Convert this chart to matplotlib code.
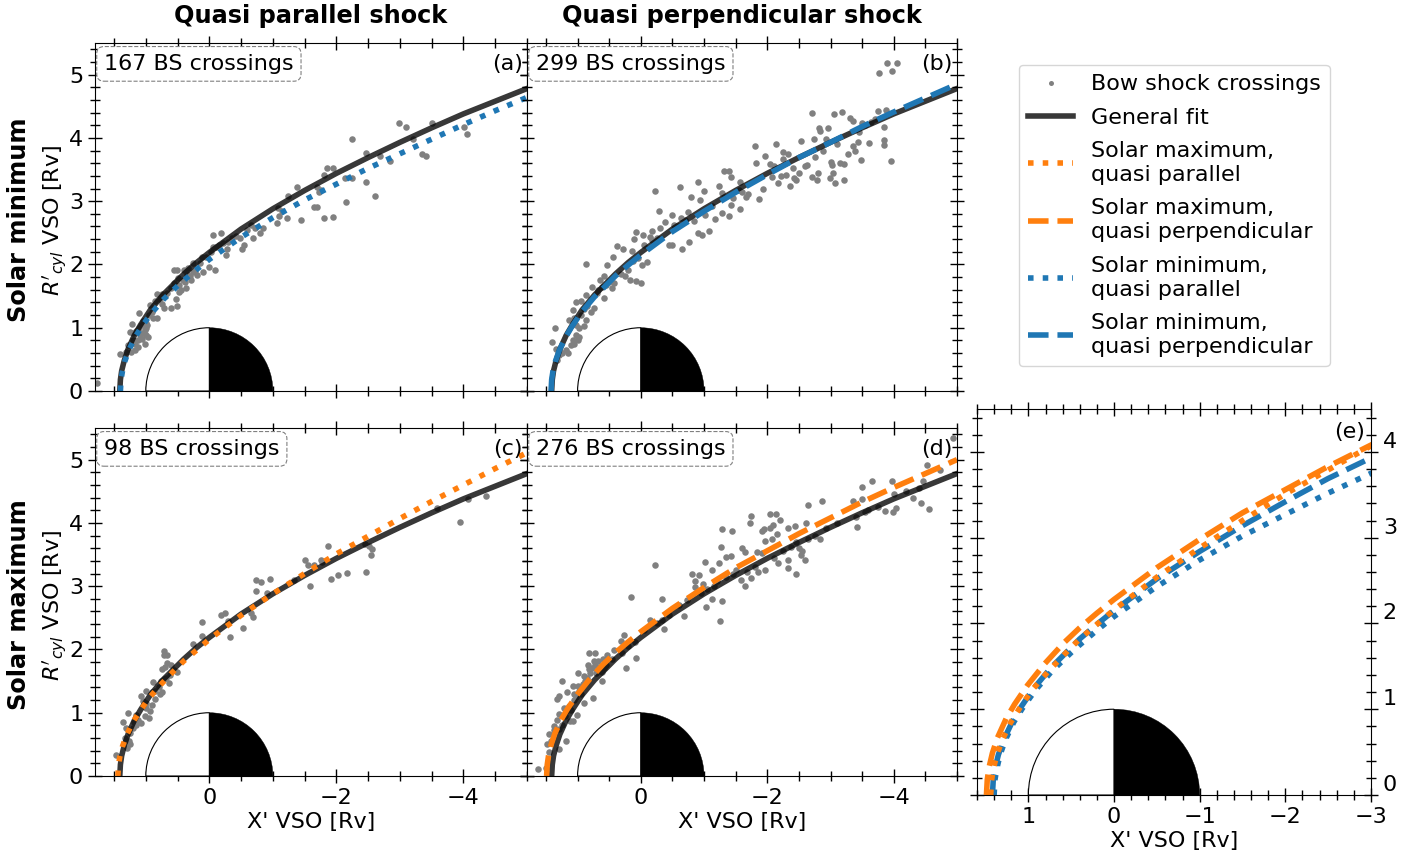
import matplotlib
matplotlib.use('Agg')
import matplotlib.pyplot as plt
from matplotlib.lines import Line2D
from matplotlib.patches import Wedge
from matplotlib.ticker import MultipleLocator

# fit curves
x_far = [-0.5, -1, -1.5, -2, -2.5, -3, -3.5, -4, -4.5, -5]

x_general = [1.41, 1.40, 1.38, 1.34, 1.28, 1.18, 1.08, 0.93, 0.73, 0.51, 0.4, 0.2, 0] + x_far
y_general = [0, 0.18, 0.32, 0.48, 0.66, 0.88, 1.05, 1.28, 1.52, 1.74, 1.85, 2.03, 2.19,
             2.56, 2.88, 3.17, 3.44, 3.69, 3.93, 4.16, 4.38, 4.58, 4.78]

x_min_par = [1.40, 1.39, 1.37, 1.33, 1.27, 1.17, 1.07, 0.92, 0.72, 0.50, 0.4, 0.2, 0] + x_far
y_min_par = [0, 0.18, 0.30, 0.47, 0.64, 0.85, 1.01, 1.22, 1.45, 1.66, 1.75, 1.92, 2.08,
             2.43, 2.74, 3.02, 3.27, 3.52, 3.75, 3.98, 4.21, 4.43, 4.64]

x_min_perp = [1.42, 1.41, 1.39, 1.35, 1.29, 1.19, 1.09, 0.94, 0.74, 0.52, 0.4, 0.2, 0] + x_far
y_min_perp = [0, 0.18, 0.31, 0.47, 0.64, 0.85, 1.02, 1.24, 1.48, 1.70, 1.82, 1.99, 2.15,
              2.52, 2.84, 3.14, 3.42, 3.69, 3.93, 4.18, 4.41, 4.63, 4.85]

x_max_par = [1.44, 1.43, 1.41, 1.37, 1.31, 1.21, 1.11, 0.96, 0.76, 0.54, 0.4, 0.2, 0] + x_far
y_max_par = [0, 0.17, 0.30, 0.46, 0.63, 0.84, 1.00, 1.22, 1.45, 1.68, 1.82, 1.99, 2.16,
             2.54, 2.88, 3.20, 3.51, 3.79, 4.07, 4.34, 4.60, 4.86, 5.11]

x_max_perp = [1.49, 1.48, 1.46, 1.42, 1.36, 1.26, 1.16, 1.01, 0.81, 0.59, 0.4, 0.2, 0] + x_far
y_max_perp = [0, 0.18, 0.32, 0.49, 0.67, 0.89, 1.06, 1.28, 1.53, 1.77, 1.95, 2.12, 2.28,
              2.65, 2.98, 3.29, 3.56, 3.83, 4.08, 4.33, 4.56, 4.78, 5.00]

# bow shock crossings per panel
crossings_a = [
    (1.77, .13), (1.40, .59), (1.31, .61), (1.22, 1.06), (1.11, 1.24), (1.25, .94), (1.20, .91),
    (1.17, .75), (1.12, .81), (1.02, .75), (1.09, .88), (1.04, .91), (.99, .99), (1.01, .96),
    (.97, .86), (.98, 1.04), (1.23, .62), (1.17, .65), (1.13, .70), (1.0, .89), (1.08, 1.04),
    (.93, 1.36), (.88, 1.15), (.83, 1.15), (.83, 1.54), (.75, 1.54), (.72, 1.31), (.61, 1.31),
    (.51, 1.35), (.53, 1.46), (.48, 1.57), (.45, 1.59), (.56, 1.92), (.51, 1.92), (.40, 1.92),
    (.33, 1.94), (.26, 2.03), (.36, 1.62), (.29, 1.76), (.19, 1.83), (.10, 1.88), (.11, 2.12),
    (.01, 1.96), (-.09, 1.91), (-.05, 2.27), (-.06, 2.46), (-.19, 2.5), (-.26, 2.15), (-.28, 2.25),
    (-.22, 2.34), (-.52, 2.25), (-.54, 2.31), (-.69, 2.42), (-.65, 2.62), (-.79, 2.49), (-.84, 2.57),
    (-1.06, 2.66), (-1.09, 2.76), (-1.23, 2.73), (-1.08, 2.9), (-1.24, 3.08), (-1.38, 3.23),
    (-1.44, 2.7), (-1.64, 2.91), (-1.69, 2.91), (-1.81, 2.73), (-1.95, 2.75), (-1.73, 3.15),
    (-1.69, 3.22), (-1.81, 3.42), (-1.85, 3.52), (-1.94, 3.52), (-2.15, 2.99), (-2.13, 3.36),
    (-2.24, 3.36), (-2.25, 3.98), (-2.46, 3.76), (-2.47, 3.3), (-2.6, 3.08), (-2.69, 3.71),
    (-2.85, 3.63), (-2.99, 4.23), (-3.09, 4.17), (-3.2, 3.99), (-3.34, 3.75), (-3.41, 3.72),
    (-3.5, 4.24), (-4.01, 4.18), (-4.05, 4.06), (.78, 1.45), (.75, 1.38), (.7, 1.5), (.66, 1.55),
    (.6, 1.62), (.55, 1.7), (.5, 1.78), (.47, 1.68), (.42, 1.75), (.38, 1.72), (.35, 1.85),
    (.3, 1.82), (.25, 1.88), (.22, 1.9), (.15, 2.02), (.05, 2.12), (-.02, 2.2), (-.1, 2.27),
    (-.15, 2.3), (-.3, 2.36), (-.35, 2.42), (-.42, 2.45), (-.48, 2.42), (-.6, 2.55), (-.72, 2.58),
    (-1.15, 2.85), (-1.75, 3.17), (1.15, .95), (1.05, 1.1), (.95, 1.2), (.9, 1.25), (1.28, .72),
    (1.2, .8), (1.1, 1.0), (1.06, .82), (1.0, 1.08), (.85, 1.42),
]

crossings_b = [
    (1.36, .99), (1.40, .78), (1.34, .66), (1.29, .57), (1.32, .49), (1.19, .65), (1.11, .73),
    (1.07, .81), (1.03, .88), (.98, .99), (.90, 1.03), (.87, 1.13), (1.13, 1.12), (1.08, 1.28),
    (1.03, 1.40), (.95, 1.42), (.87, 1.52), (.77, 1.65), (.74, 1.31), (.79, 1.25), (.59, 1.47),
    (.65, 1.75), (.58, 1.81), (.86, 2.0), (.53, 1.99), (.44, 2.11), (.37, 2.29), (.28, 2.24),
    (.14, 2.22), (.08, 2.52), (.11, 2.41), (-.03, 2.46), (-.14, 2.44), (-.18, 2.53), (-.31, 2.58),
    (-.28, 2.84), (-.22, 3.16), (-.39, 2.67), (-.49, 2.78), (-.44, 2.31), (-.49, 2.31), (-.65, 2.25),
    (-.76, 2.36), (.17, 1.75), (.08, 1.74), (0, 1.71), (-.02, 1.99), (-.09, 2.04), (-.64, 2.74),
    (-.75, 2.83), (-.62, 3.22), (-.79, 3.07), (-.94, 3.02), (-.90, 3.31), (-1.0, 3.16), (-1.02, 2.78),
    (-.91, 2.49), (-.97, 2.46), (-1.08, 2.53), (-1.18, 2.72), (-1.28, 2.81), (-1.40, 2.77),
    (-1.42, 2.94), (-1.57, 2.87), (-1.23, 3.24), (-1.32, 3.48), (-1.39, 3.47), (-1.42, 3.38),
    (-1.28, 3.13), (-1.57, 3.31), (-1.67, 3.06), (-1.87, 3.03), (-1.93, 3.2), (-1.8, 3.87),
    (-1.82, 3.61), (-1.97, 3.71), (-2.05, 3.59), (-2.13, 3.91), (-2.25, 3.78), (-2.33, 3.74),
    (-2.25, 3.66), (-2.07, 3.38), (-2.17, 3.29), (-2.36, 3.24), (-2.45, 3.33), (-2.54, 3.95),
    (-2.41, 3.52), (-2.62, 3.57), (-2.71, 3.38), (-2.8, 3.45), (-2.79, 3.34), (-2.71, 4.4),
    (-2.74, 3.99), (-2.82, 4.16), (-2.83, 4.11), (-2.96, 4.16), (-2.93, 3.99), (-3.05, 4.38),
    (-3.18, 4.41), (-3.3, 4.32), (-3.35, 4.27), (-3.0, 3.62), (-3.02, 3.57), (-3.04, 3.45),
    (-2.99, 3.36), (-3.07, 3.28), (-3.21, 3.34), (-3.22, 3.59), (-3.27, 3.74), (-3.38, 3.79),
    (-3.36, 3.87), (-3.43, 3.94), (-3.48, 3.65), (-3.61, 3.92), (-3.5, 4.24), (-3.64, 4.25),
    (-3.75, 4.43), (-3.88, 4.44), (-3.84, 4.18), (-3.84, 3.97), (-3.85, 3.89), (-3.96, 3.63),
    (-3.76, 5.02), (-3.9, 5.19), (-3.97, 5.06), (-4.05, 5.18), (1.25, .6), (1.15, .6), (1.05, .75),
    (1.0, .8), (.98, .85), (1.02, 1.05), (1.05, 1.15), (.95, 1.2), (.9, 1.3), (.85, 1.35), (.7, 1.55),
    (.68, 1.6), (.62, 1.65), (.55, 1.68), (.5, 1.72), (.45, 1.62), (.42, 1.7), (.32, 1.85), (.25, 1.82),
    (.2, 1.92), (.12, 2.05), (.05, 2.1), (-.05, 2.3), (-.18, 2.38), (-.25, 2.42), (-.52, 2.62),
    (-.58, 2.6), (-.7, 2.7), (-.84, 2.68), (-1.12, 2.92), (-1.45, 3.05), (-1.6, 3.14), (-1.7, 3.12),
    (-1.55, 3.18), (-2.1, 3.55), (-2.22, 3.4), (-2.3, 3.42), (-2.42, 3.36), (-2.5, 3.45), (-2.6, 3.55),
    (-2.75, 3.7), (-2.88, 3.8), (-3.1, 3.9), (-3.15, 3.6), (-3.45, 4.1), (-3.55, 4.2), (-3.7, 4.3),
]

crossings_c = [
    (1.47, .33), (1.36, .86), (1.28, 1.0), (1.31, .76), (1.25, .5), (1.29, .45), (1.2, .76),
    (1.15, .97), (1.07, 1.26), (1.0, 1.35), (1.04, 1.18), (1.08, .84), (1.02, .95), (.94, 1.03),
    (.95, .92), (.99, 1.08), (.88, 1.48), (.85, 1.21), (.91, 1.32), (.75, 1.32), (.76, 1.5),
    (.71, 1.54), (.64, 1.47), (.74, 1.69), (.72, 1.91), (.72, 1.97), (.67, 1.91), (.67, 1.79),
    (.61, 1.75), (.51, 1.64), (.26, 2.09), (.11, 2.21), (.11, 2.44), (-.18, 2.55), (-.25, 2.57),
    (-.32, 2.2), (-.29, 2.45), (-.53, 2.34), (-.65, 2.58), (-.68, 2.52), (-.74, 2.92), (-.74, 3.09),
    (-.81, 3.07), (-.91, 2.89), (-.96, 3.12), (-1.33, 3.09), (-1.51, 3.41), (-1.55, 3.33),
    (-1.59, 3.01), (-1.65, 3.33), (-1.76, 3.42), (-1.77, 3.39), (-1.87, 3.64), (-1.92, 3.11),
    (-2.03, 3.17), (-2.16, 3.21), (-2.45, 3.67), (-2.47, 3.22), (-2.51, 3.63), (-2.56, 3.58),
    (-2.54, 3.49), (-3.58, 4.24), (-3.94, 4.02), (-4.07, 4.37), (-4.36, 4.43), (1.12, .88),
    (1.18, .85), (1.25, .68), (1.15, .8), (1.0, 1.15), (.9, 1.12), (.85, 1.35), (.8, 1.4),
    (.68, 1.55), (.62, 1.6), (.56, 1.68), (.7, 1.72), (1.27, .55), (1.33, .6), (.78, 1.3),
]

crossings_d = [
    (1.62, .11), (1.5, .12), (1.46, .38), (1.48, .5), (1.45, .67), (1.37, .79), (1.29, .43),
    (1.18, .56), (1.29, .98), (1.32, .89), (1.25, 1.5), (1.33, 1.21), (1.29, 1.26), (1.16, 1.33),
    (1.22, 1.08), (1.14, 1.11), (1.07, .87), (1.01, .96), (1.12, .87), (1.07, 1.43), (1.0, 1.62),
    (1.0, 1.42), (.9, 1.15), (.76, 1.24), (1.06, 1.29), (.95, 1.29), (.9, 1.58), (.82, 1.95),
    (.73, 1.95), (.74, 1.82), (.83, 1.75), (.82, 1.69), (.71, 1.63), (.61, 1.5), (.6, 1.85),
    (.53, 1.91), (.43, 1.99), (.32, 2.14), (.26, 2.23), (.24, 1.71), (.08, 1.87), (.15, 2.83),
    (-.14, 2.46), (-.22, 3.33), (-.34, 2.8), (-.34, 2.47), (-.37, 2.33), (-.68, 2.53), (-.73, 2.78),
    (-.81, 3.2), (-.92, 3.18), (-.86, 3.08), (-.86, 2.99), (-.99, 3.03), (-1.02, 3.38), (-1.12, 3.26),
    (-1.03, 2.67), (-1.25, 2.45), (-1.29, 2.77), (-1.12, 2.8), (-1.24, 3.37), (-1.27, 3.62),
    (-1.28, 3.91), (-1.44, 3.87), (-1.35, 3.46), (-1.42, 3.47), (-1.6, 3.61), (-1.64, 3.54),
    (-1.74, 4.11), (-1.73, 4.0), (-1.65, 3.0), (-1.83, 3.54), (-1.91, 3.53), (-1.91, 3.87),
    (-1.95, 3.91), (-2.04, 4.14), (-2.14, 4.14), (-2.2, 4.04), (-2.04, 3.92), (-2.09, 3.97),
    (-1.96, 3.71), (-2.07, 3.75), (-2.15, 3.82), (-2.32, 3.92), (-2.44, 3.95), (-2.46, 3.19),
    (-2.32, 3.28), (-2.17, 3.37), (-2.33, 3.41), (-1.97, 3.26), (-1.86, 3.23), (-1.75, 3.13),
    (-2.54, 3.5), (-2.59, 3.42), (-2.61, 4.0), (-2.64, 4.29), (-2.87, 4.35), (-2.83, 3.74),
    (-2.93, 3.92), (-3.35, 4.35), (-3.49, 4.56), (-3.49, 4.38), (-3.65, 4.67), (-3.42, 3.94),
    (-3.54, 4.18), (-3.86, 4.19), (-3.97, 4.67), (-3.98, 4.17), (-4.04, 4.24), (-4.01, 4.45),
    (-4.43, 4.32), (-4.55, 4.22), (-4.46, 4.67), (-4.52, 4.91), (-4.73, 4.84), (-4.94, 5.34),
    (1.38, .72), (1.42, .55), (1.3, .75), (1.25, .8), (1.2, .95), (1.18, 1.02), (1.1, 1.05),
    (1.05, 1.2), (1.02, 1.25), (.98, 1.35), (.92, 1.45), (.88, 1.5), (.85, 1.55), (.8, 1.62),
    (.78, 1.7), (.72, 1.75), (.68, 1.82), (.65, 1.72), (.62, 1.65), (.58, 1.7), (.55, 1.75),
    (.45, 1.85), (.3, 1.95), (.2, 2.05), (.1, 2.12), (-.05, 2.3), (-.25, 2.42), (-.45, 2.55),
    (-.6, 2.7), (-.95, 2.9), (-1.05, 2.95), (-1.15, 3.0), (-1.2, 3.08), (-1.35, 3.15), (-1.45, 3.2),
    (-1.5, 3.25), (-1.58, 3.1), (-1.68, 3.22), (-1.8, 3.3), (-2.1, 3.45), (-2.25, 3.55), (-2.38, 3.62),
    (-2.45, 3.7), (-2.5, 3.6), (-2.55, 3.55), (-2.65, 3.75), (-2.75, 3.8), (-3.1, 4.0), (-3.4, 4.1),
    (-3.6, 4.2), (-3.75, 4.25), (-4.2, 4.5), (-4.3, 4.4), (-4.4, 4.55),
]

counts = ['167', '299', '98', '276']
panel_tags = ['(a)', '(b)', '(c)', '(d)', '(e)']
legend_labels = ['Bow shock crossings', 'General fit',
                 'Solar maximum,\nquasi parallel', 'Solar maximum,\nquasi perpendicular',
                 'Solar minimum,\nquasi parallel', 'Solar minimum,\nquasi perpendicular']

W, H = 1422, 857
LW = 4
BLUE, ORANGE = 'tab:blue', 'tab:orange'
DARK = (0, 0, 0, 0.78)
HEAD_SIZE = 17.3

plt.rcParams['font.size'] = 16


def add_axes_px(left, right, top, bottom):
    return fig.add_axes([left / W, 1 - bottom / H, (right - left) / W, (bottom - top) / H])


def style_ticks(ax, xminor):
    ax.xaxis.set_major_locator(MultipleLocator(2 if xminor == 0.5 else 1))
    ax.xaxis.set_minor_locator(MultipleLocator(xminor))
    ax.yaxis.set_major_locator(MultipleLocator(1))
    ax.yaxis.set_minor_locator(MultipleLocator(0.2))
    ax.tick_params(which='both', direction='inout', top=True, right=True)
    ax.tick_params(which='major', length=10, width=1)
    ax.tick_params(which='minor', length=7, width=1)


def draw_planet(ax):
    ax.add_patch(Wedge((0, 0), 1, 0, 90, fc='white', ec='black', lw=0.8, zorder=3))
    ax.add_patch(Wedge((0, 0), 1, 90, 180, fc='black', ec='black', lw=0.3, zorder=3))


fig = plt.figure(figsize=(W / 100, H / 100), dpi=100)

ax_a = add_axes_px(95, 527, 43, 391)
ax_b = add_axes_px(527, 957, 43, 391)
ax_c = add_axes_px(95, 527, 428, 776)
ax_d = add_axes_px(527, 957, 428, 776)
ax_e = add_axes_px(977, 1371, 409, 795)

panels = [ax_a, ax_b, ax_c, ax_d]
crossings = [crossings_a, crossings_b, crossings_c, crossings_d]
fits = [(x_min_par, y_min_par, BLUE, ':'), (x_min_perp, y_min_perp, BLUE, '--'),
        (x_max_par, y_max_par, ORANGE, ':'), (x_max_perp, y_max_perp, ORANGE, '--')]

for i, ax in enumerate(panels):
    xs, ys = zip(*crossings[i])
    ax.plot(xs, ys, 'o', color='gray', ms=4.7, mew=0, zorder=1)
    ax.plot(x_general, y_general, color=DARK, lw=LW, zorder=2)
    fx, fy, col, style = fits[i]
    ax.plot(fx, fy, color=col, ls=style, lw=LW, zorder=2.5)
    draw_planet(ax)
    ax.set_xlim(1.8, -5)
    ax.set_ylim(0, 5.5)
    style_ticks(ax, 0.5)
    ax.text(0.021, 0.94, counts[i] + ' BS crossings', transform=ax.transAxes, va='center', zorder=5,
            bbox=dict(boxstyle='round,pad=0.33', fc='white', ec='gray', ls='--', lw=0.8))
    ax.text(0.99, 0.94, panel_tags[i], transform=ax.transAxes, ha='right', va='center', zorder=5)

for ax in [ax_a, ax_b]:
    ax.tick_params(which='both', labelbottom=False)
for ax in [ax_b, ax_d]:
    ax.tick_params(which='both', labelleft=False)
for ax in [ax_c, ax_d, ax_e]:
    ax.set_xlabel("X' VSO [Rv]", labelpad=3)
for ax in [ax_a, ax_c]:
    ax.set_ylabel(r"$R'_{cyl}$ VSO [Rv]", labelpad=0, y=0.49)

for fx, fy, col, style in fits:
    ax_e.plot(fx, fy, color=col, ls=style, lw=LW, zorder=2)
draw_planet(ax_e)
ax_e.set_xlim(1.6, -3)
ax_e.set_ylim(0, 4.5)
style_ticks(ax_e, 0.2)
ax_e.tick_params(which='both', labelleft=False, labelright=True)
for lab in ax_e.get_yticklabels():
    lab.set_va('bottom')
ax_e.text(0.985, 0.94, panel_tags[4], transform=ax_e.transAxes, ha='right', va='center', zorder=5)

fig.text(311 / W, 1 - 16 / H, 'Quasi parallel shock', fontsize=HEAD_SIZE, fontweight='bold', ha='center', va='center')
fig.text(742 / W, 1 - 16 / H, 'Quasi perpendicular shock', fontsize=HEAD_SIZE, fontweight='bold', ha='center', va='center')
fig.text(19 / W, 1 - 220 / H, 'Solar minimum', fontsize=HEAD_SIZE, fontweight='bold', rotation=90, ha='center', va='center')
fig.text(19 / W, 1 - 605 / H, 'Solar maximum', fontsize=HEAD_SIZE, fontweight='bold', rotation=90, ha='center', va='center')

handles = [Line2D([], [], marker='o', color='gray', ls='none', ms=3.6, mew=0),
           Line2D([], [], color=DARK, lw=LW),
           Line2D([], [], color=ORANGE, ls=':', lw=LW),
           Line2D([], [], color=ORANGE, ls='--', lw=LW),
           Line2D([], [], color=BLUE, ls=':', lw=LW),
           Line2D([], [], color=BLUE, ls='--', lw=LW)]
leg = fig.legend(handles, legend_labels, loc='upper left', bbox_to_anchor=(1019 / W, 1 - 65 / H),
                 borderaxespad=0, numpoints=1, labelspacing=0.6, borderpad=0.42)
for txt in leg.get_texts():
    txt.set_linespacing(1.25)

fig.savefig('out.png', dpi=100)
